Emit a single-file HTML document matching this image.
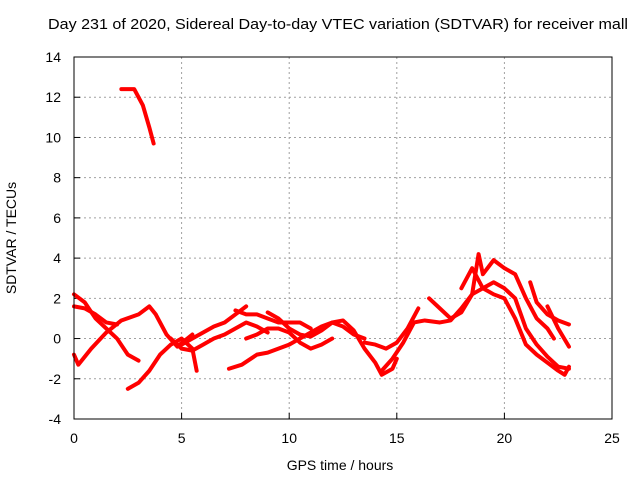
<!DOCTYPE html>
<html><head><meta charset="utf-8"><style>
body{margin:0;background:#fff}
svg{display:block;font-family:"Liberation Sans",sans-serif}
</style></head><body>
<svg id="chart" width="640" height="480">
<rect width="640" height="480" fill="#fff"/>
<text x="338" y="29" text-anchor="middle" font-size="15" textLength="580" lengthAdjust="spacingAndGlyphs">Day 231 of 2020, Sidereal Day-to-day VTEC variation (SDTVAR) for receiver mall</text>
<text x="340" y="470" text-anchor="middle" font-size="14">GPS time / hours</text>
<text transform="translate(16,238) rotate(-90)" text-anchor="middle" font-size="14">SDTVAR / TECUs</text>
<g id="grid"></g><g id="ticks"></g><g id="series"></g>
<rect x="74" y="57" width="538" height="362" fill="none" stroke="#000" stroke-width="1"/>
</svg>
<script>
const xTicks=[0,5,10,15,20,25];
const yTicks=[-4,-2,0,2,4,6,8,10,12,14];
const track1=[[2.2,12.4],[2.8,12.4],[3.2,11.6],[3.5,10.5],[3.7,9.7]];
const track2=[[0,2.2],[0.5,1.8],[1,1.0],[1.5,0.5],[2,0],[2.5,-0.8],[3,-1.1]];
const track3=[[0,1.6],[0.5,1.5],[1,1.2],[1.5,0.8],[2,0.7]];
const track4=[[0,-0.8],[0.2,-1.3],[0.8,-0.5],[1.5,0.3],[2.2,0.9],[3,1.2],[3.5,1.6],[3.8,1.2],[4.3,0.2],[4.8,-0.4],[5.5,0.2]];
const track5=[[2.5,-2.5],[3,-2.2],[3.5,-1.6],[4,-0.8],[4.5,-0.3],[5,0],[5.5,-0.5],[5.7,-1.6]];
const track6=[[5,-0.3],[5.5,0],[6,0.3],[6.5,0.6],[7,0.8],[7.5,1.2],[8,1.6]];
const track7=[[4.5,0],[5,-0.5],[5.5,-0.6],[6,-0.3],[6.5,0],[7,0.2],[7.5,0.5],[8,0.8],[8.5,0.6],[9,0.3]];
const track8=[[7.2,-1.5],[7.8,-1.3],[8.5,-0.8],[9,-0.7],[9.5,-0.5],[10,-0.3],[10.5,0],[11,0.3],[11.5,0.6],[12,0.8],[12.5,0.9],[13,0.4],[13.5,-0.5],[14,-1.2],[14.3,-1.8],[14.8,-1.5],[15,-1]];
const track9=[[7.5,1.4],[8,1.2],[8.5,1.2],[9,1.0],[9.5,0.8],[10,0.8],[10.5,0.8],[11,0.5]];
const track10=[[8,0],[8.5,0.2],[9,0.5],[9.5,0.5],[10,0.3],[10.5,-0.2],[11,-0.5],[11.5,-0.3],[12,0]];
const track11=[[9,1.3],[9.5,1.0],[10,0.5],[10.5,0.2],[11,0.1],[11.5,0.4],[12,0.8],[12.5,0.6],[13,0.2],[13.5,0]];
const track12=[[13.5,-0.2],[14,-0.3],[14.5,-0.5],[15,-0.2],[15.5,0.5],[16,1.5]];
const track13=[[14.3,-1.6],[14.8,-1.0],[15.3,-0.2],[15.8,0.8],[16.3,0.9],[17,0.8],[17.5,0.9],[18,1.5],[18.5,2.2],[19,2.5],[19.5,2.2],[20,2.0],[20.5,1.0],[21,-0.3],[21.5,-0.8],[22,-1.2],[22.5,-1.6],[22.8,-1.8],[23,-1.4]];
const track14=[[16.5,2.0],[17,1.5],[17.5,1.0],[18,1.3],[18.5,2.2],[18.8,4.2],[19,3.2],[19.5,3.9],[20,3.5],[20.5,3.2],[21,2.0],[21.5,1.0],[22,0.5],[22.3,0]];
const track15=[[18,2.5],[18.5,3.5],[19,2.5],[19.5,2.8],[20,2.5],[20.5,2.0],[21,0.5],[21.5,-0.3],[22,-0.9],[22.5,-1.4],[23,-1.5]];
const track16=[[21.2,2.8],[21.5,1.8],[22,1.2],[22.5,0.9],[23,0.7]];
const track17=[[22,1.6],[22.5,0.5],[23,-0.4]];
const tracks=[track1,track2,track3,track4,track5,track6,track7,track8,track9,track10,track11,track12,track13,track14,track15,track16,track17];

const X0=74,X1=612,Y0=419,Y1=57;
const sx=v=>X0+(v-0)/(25-0)*(X1-X0);
const sy=v=>Y0-(v+4)/(14+4)*(Y0-Y1);
const NS="http://www.w3.org/2000/svg";
const mk=(t,a,p)=>{const e=document.createElementNS(NS,t);for(const k in a)e.setAttribute(k,a[k]);p.appendChild(e);return e;};
const grid=document.getElementById('grid'),ticks=document.getElementById('ticks'),ser=document.getElementById('series');
xTicks.forEach(v=>{const x=sx(v);
 if(v>0&&v<25){const g=mk('line',{x1:x,x2:x,y1:Y0,y2:Y1,stroke:'#a0a0a0','stroke-dasharray':'2,3'},grid);
 
 }
 const t=mk('line',{x1:x,x2:x,y1:Y0,y2:Y0-6,stroke:'#000'},ticks);
 
 
 const l=mk('text',{x:x,y:443,'text-anchor':'middle','font-size':14},ticks);l.textContent=v;
 
 
});
yTicks.forEach(v=>{const y=sy(v);
 if(v>-4&&v<14){const g=mk('line',{x1:X0,x2:X1,y1:y,y2:y,stroke:'#a0a0a0','stroke-dasharray':'2,3'},grid);
 
 }
 const t=mk('line',{x1:X0,x2:X0+6,y1:y,y2:y,stroke:'#000'},ticks);
 
 
 const l=mk('text',{x:61,y:y+5,'text-anchor':'end','font-size':14},ticks);l.textContent=v;
 
 
});
tracks.forEach((tr,i)=>{
 const p=mk('polyline',{points:tr.map(d=>sx(d[0])+','+sy(d[1])).join(' '),fill:'none',stroke:'#ff0000','stroke-width':4,'stroke-linejoin':'round','stroke-linecap':'round'},ser);
 
 
});
</script>
</body></html>
